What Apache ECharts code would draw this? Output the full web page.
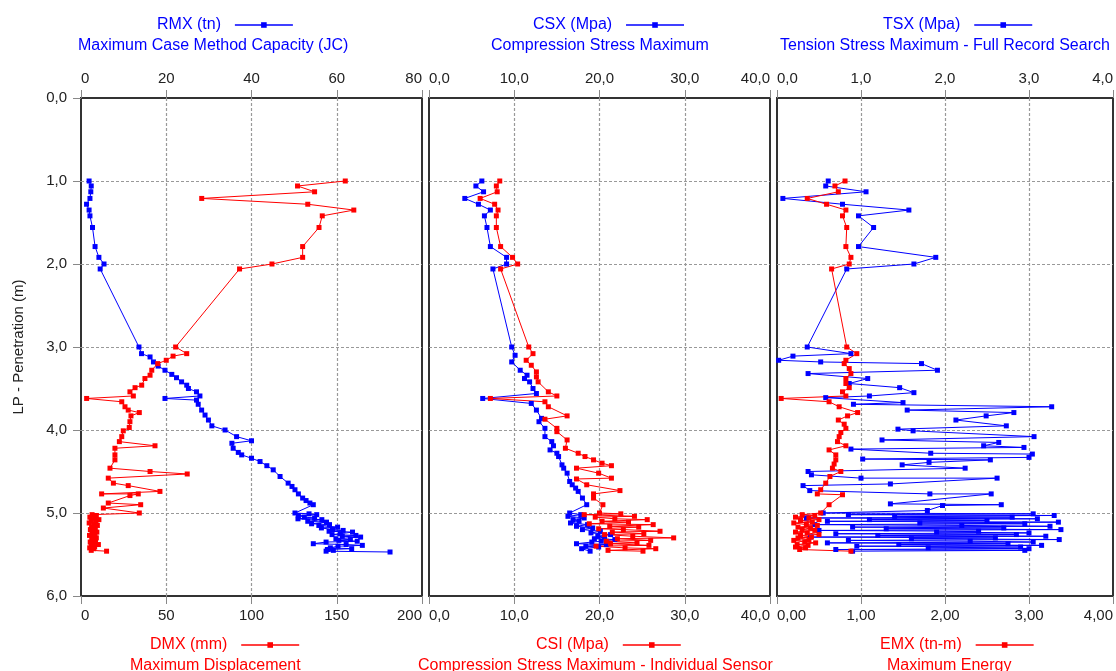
<!DOCTYPE html>
<html>
<head>
<meta charset="utf-8">
<script src="https://cdn.jsdelivr.net/npm/echarts@6/dist/echarts.min.js"></script>
<style>
html, body { margin: 0; padding: 0; background: #fff; overflow: hidden; }
#main { width: 1116px; height: 671px; }
</style>
</head>
<body>
<div id="main"></div>
<script>
// 数据: [值, 深度(m)]
const rmx = [
  [1.9,1.00],[2.4,1.06],[2.3,1.13],[2.1,1.21],[1.3,1.28],[1.9,1.35],[2.1,1.42],[2.7,1.56],[3.3,1.79],[4.2,1.92],[5.4,2.00],[4.5,2.06],
  [13.6,3.00],[14.2,3.08],[16.2,3.12],[17.0,3.18],[18.1,3.23],[19.7,3.28],[21.3,3.33],[22.4,3.37],[23.6,3.42],[24.8,3.46],[25.2,3.50],
  [27.1,3.54],[27.9,3.59],[19.7,3.62],[27.1,3.64],[27.5,3.69],[28.3,3.76],[29.1,3.82],[29.9,3.88],[30.7,3.95],[33.8,4.00],[36.5,4.08],
  [40.0,4.13],[35.4,4.16],[35.7,4.22],[36.9,4.27],[37.7,4.30],[40.0,4.34],[42.0,4.38],[43.6,4.43],[45.1,4.48],[46.7,4.56],[48.6,4.64],
  [49.5,4.68],[50.2,4.72],[51.0,4.77],[52.0,4.82],[52.8,4.85],[53.7,4.88],[54.5,4.90],
  [50.2,5.00],[53.5,5.01],[55.3,5.02],[51.0,5.03],[52.4,5.05],[54.8,5.06],[50.9,5.07],[56.5,5.08],[53.2,5.10],[57.6,5.11],[54.1,5.13],
  [58.3,5.14],[55.8,5.15],[60.2,5.17],[56.4,5.18],[59.0,5.20],[61.5,5.21],[58.2,5.22],[63.7,5.23],[60.8,5.25],[58.9,5.26],[64.5,5.27],
  [61.3,5.28],[65.6,5.29],[59.8,5.31],[63.2,5.32],[60.5,5.33],[64.8,5.34],[57.5,5.35],[54.5,5.37],[62.2,5.38],[66.0,5.39],[60.3,5.40],
  [58.5,5.42],[63.5,5.43],[57.8,5.44],[59.2,5.45],[57.5,5.46],[72.5,5.47]
];
const dmx = [
  [155,1.00],[127,1.06],[137,1.13],[70.8,1.21],[133,1.28],[160,1.35],[141.5,1.42],[139.6,1.56],[130,1.79],[130,1.92],[112,2.00],[93,2.06],
  [55.5,3.00],[62,3.08],[54,3.11],[50,3.16],[45,3.20],[41.5,3.28],[40.5,3.34],[37.5,3.38],[35.6,3.46],[31.7,3.49],[28.7,3.54],[30.7,3.59],
  [3.3,3.62],[23.9,3.66],[25.8,3.72],[27.7,3.76],[34.2,3.79],[29.3,3.83],[28.7,3.90],[28.3,3.97],[24.8,4.01],[23.9,4.08],[22.5,4.14],
  [43.4,4.19],[19.9,4.22],[19.9,4.30],[19.9,4.36],[17,4.46],[40.5,4.50],[62.3,4.53],[16,4.58],[19,4.64],[27.7,4.67],[46.3,4.74],
  [12.1,4.77],[33.6,4.77],[28.7,4.79],[16,4.88],[35,4.90],[13.1,4.94],[34.2,5.00],
  [6.5,5.02],[9.0,5.03],[5.2,5.05],[8.1,5.06],[10.5,5.08],[6.0,5.09],[8.8,5.11],[4.8,5.12],[7.5,5.14],[9.6,5.15],[6.2,5.17],[8.4,5.18],
  [5.5,5.20],[7.9,5.21],[9.3,5.23],[6.4,5.24],[8.2,5.26],[5.0,5.27],[7.1,5.29],[9.0,5.30],[6.3,5.32],[8.5,5.33],[5.4,5.35],[7.3,5.36],
  [10.2,5.38],[6.0,5.39],[8.0,5.41],[5.1,5.42],[7.4,5.43],[6.0,5.45],[15.0,5.46]
];
const csx = [
  [6.2,1.00],[5.5,1.06],[6.4,1.13],[4.2,1.21],[5.8,1.28],[7.2,1.35],[6.5,1.42],[6.8,1.56],[7.2,1.79],[9.1,1.92],[9.1,2.00],[7.5,2.06],
  [9.7,3.00],[10.1,3.10],[9.7,3.18],[10.7,3.28],[11.5,3.34],[11.2,3.38],[11.8,3.42],[12.2,3.50],[12.6,3.56],[6.3,3.62],[12.0,3.68],
  [12.6,3.76],[13.2,3.86],[12.9,3.90],[13.6,3.98],[13.6,4.08],[14.4,4.14],[14.6,4.19],[14.2,4.24],[15.0,4.28],[15.2,4.32],[15.6,4.42],
  [15.8,4.46],[16.2,4.52],[16.5,4.62],[16.8,4.66],[17.2,4.70],[17.5,4.74],[18.0,4.82],[18.5,4.90],
  [16.5,5.00],[17.8,5.02],[16.3,5.04],[18.2,5.06],[16.9,5.08],[17.6,5.10],[16.6,5.12],[18.6,5.14],[17.3,5.16],[19.2,5.18],[18.0,5.20],
  [20.1,5.22],[19.0,5.24],[21.3,5.26],[19.8,5.28],[20.6,5.29],[19.4,5.31],[21.8,5.32],[20.2,5.34],[19.1,5.35],[17.3,5.37],[20.8,5.38],
  [18.4,5.40],[19.9,5.41],[17.9,5.43],[18.9,5.46]
];
const csi = [
  [8.3,1.00],[7.9,1.06],[8.0,1.13],[6.0,1.21],[7.7,1.28],[8.1,1.35],[7.9,1.42],[7.9,1.56],[8.4,1.79],[9.8,1.92],[10.4,2.00],[8.4,2.06],
  [11.7,3.00],[12.2,3.08],[11.4,3.16],[12.0,3.22],[12.6,3.30],[12.6,3.36],[12.8,3.42],[14.0,3.54],[15.0,3.59],[7.2,3.62],[13.6,3.66],
  [14.0,3.72],[16.2,3.83],[13.6,3.87],[15.0,3.98],[15.0,4.02],[16.2,4.12],[16.0,4.22],[17.5,4.28],[18.3,4.32],[19.3,4.36],[20.3,4.40],
  [21.4,4.43],[17.3,4.46],[19.9,4.52],[21.4,4.58],[17.3,4.59],[18.5,4.66],[22.4,4.73],[19.3,4.77],[19.3,4.82],[20.4,4.90],
  [20.0,5.00],[22.5,5.01],[18.2,5.02],[24.1,5.04],[19.5,5.05],[21.8,5.07],[25.6,5.08],[20.3,5.10],[23.4,5.11],[18.8,5.13],[26.3,5.14],
  [21.2,5.16],[24.6,5.17],[19.9,5.19],[22.8,5.20],[27.1,5.22],[21.5,5.23],[25.2,5.25],[20.6,5.26],[23.9,5.28],[28.7,5.30],[22.1,5.31],
  [26.0,5.33],[20.8,5.34],[24.4,5.36],[21.3,5.37],[25.8,5.39],[19.6,5.40],[23.0,5.42],[26.6,5.43],[21.0,5.45],[25.1,5.46]
];
const tsx = [
  [0.61,1.00],[0.58,1.06],[1.06,1.13],[0.07,1.21],[0.78,1.28],[1.57,1.35],[0.97,1.42],[1.15,1.56],[0.97,1.79],[1.89,1.92],[1.63,2.00],[0.83,2.06],
  [0.36,3.00],[0.88,3.08],[0.19,3.11],[0.02,3.16],[0.52,3.18],[1.72,3.20],[1.91,3.28],[0.37,3.32],[1.08,3.38],[0.86,3.44],[1.46,3.49],
  [1.63,3.55],[1.10,3.59],[0.58,3.61],[1.50,3.67],[0.91,3.69],[3.27,3.72],[1.55,3.76],[2.82,3.79],[2.49,3.83],[2.13,3.88],[2.73,3.95],
  [1.44,3.99],[1.62,4.01],[3.06,4.08],[1.25,4.12],[2.64,4.15],[2.46,4.19],[2.94,4.21],[0.88,4.23],[1.83,4.28],[3.04,4.29],[3.00,4.33],
  [1.02,4.35],[2.54,4.36],[1.81,4.39],[1.49,4.42],[2.24,4.46],[0.37,4.50],[0.41,4.54],[1.00,4.58],[2.62,4.58],[1.35,4.65],[0.31,4.67],
  [0.39,4.73],[1.82,4.77],[2.55,4.77],[1.35,4.89],[2.67,4.90],[1.97,4.91],[1.79,4.97],
  [0.55,5.00],[3.05,5.01],[0.85,5.02],[3.30,5.03],[1.40,5.04],[2.80,5.05],[0.35,5.06],[3.10,5.07],[1.10,5.08],[2.50,5.09],[0.60,5.10],
  [3.35,5.11],[1.70,5.12],[2.95,5.13],[0.45,5.14],[2.20,5.15],[3.25,5.16],[0.90,5.17],[2.70,5.18],[1.30,5.19],[3.38,5.20],[0.50,5.21],
  [2.40,5.22],[1.90,5.23],[3.00,5.24],[0.70,5.25],[2.85,5.26],[1.20,5.27],[3.20,5.28],[0.40,5.29],[2.60,5.30],[1.60,5.31],[3.36,5.32],
  [0.85,5.33],[2.30,5.34],[3.05,5.35],[0.60,5.36],[2.75,5.37],[1.45,5.38],[3.15,5.39],[0.95,5.40],[2.90,5.41],[1.80,5.42],[3.00,5.43],
  [0.70,5.44],[2.95,5.45],[0.90,5.46]
];
const emx = [
  [0.81,1.00],[0.69,1.06],[0.73,1.13],[0.36,1.21],[0.59,1.28],[0.82,1.35],[0.78,1.42],[0.83,1.56],[0.82,1.79],[0.88,1.92],[0.86,2.00],[0.65,2.06],
  [0.83,3.00],[0.95,3.08],[0.82,3.16],[0.80,3.20],[0.86,3.26],[0.88,3.32],[0.82,3.38],[0.82,3.44],[0.86,3.49],[0.78,3.54],[0.82,3.59],
  [0.05,3.62],[0.62,3.66],[0.74,3.72],[0.96,3.79],[0.84,3.83],[0.73,3.88],[0.80,3.93],[0.82,3.98],[0.76,4.03],[0.74,4.08],[0.72,4.14],
  [0.82,4.19],[0.62,4.24],[0.70,4.30],[0.70,4.36],[0.68,4.41],[0.66,4.46],[0.76,4.50],[0.63,4.56],[0.58,4.64],[0.52,4.72],[0.48,4.77],
  [0.78,4.78],[0.62,4.90],[0.52,5.00],
  [0.30,5.02],[0.45,5.03],[0.22,5.05],[0.38,5.06],[0.50,5.08],[0.28,5.09],[0.42,5.11],[0.20,5.12],[0.35,5.14],[0.48,5.15],[0.25,5.17],
  [0.40,5.18],[0.30,5.20],[0.45,5.21],[0.22,5.23],[0.36,5.24],[0.50,5.26],[0.28,5.27],[0.41,5.29],[0.25,5.30],[0.38,5.32],[0.20,5.33],
  [0.33,5.35],[0.46,5.36],[0.24,5.38],[0.37,5.39],[0.22,5.41],[0.34,5.42],[0.27,5.44],[0.88,5.46]
];

const FONT = '"Liberation Sans", Arial, sans-serif';
const BLUE = '#0000ff', RED = '#ff0000';
const comma = function (d) {
    return function (v) { return v.toFixed(d).replace('.', ','); };
};

/*封装x轴*/
const xAx = function (grid, pos, max, interval, dec, split) {
    return {
        type: 'value', gridIndex: grid, position: pos, min: 0, max: max, interval: interval,
        axisLine: { show: false },
        axisTick: { show: true, length: 8, lineStyle: { color: '#888' } },
        axisLabel: {
            color: '#222', fontSize: 15, fontFamily: FONT, margin: 12,
            formatter: comma(dec), alignMinLabel: 'left', alignMaxLabel: 'right',
            showMinLabel: true, showMaxLabel: true
        },
        splitLine: { show: split, showMinLine: false, showMaxLine: false, lineStyle: { color: '#999', type: [3, 2], width: 1.2 } }
    };
};

/*封装y轴*/
const yAx = function (grid) {
    let first = grid === 0;
    return {
        type: 'value', gridIndex: grid, min: 0, max: 6, interval: 1, inverse: true,
        name: first ? 'LP - Penetration (m)' : '',
        nameLocation: 'middle', nameGap: 55, nameRotate: 90,
        nameTextStyle: { color: '#222', fontSize: 15, fontFamily: FONT },
        axisLine: { show: false },
        axisTick: { show: first, length: 8, lineStyle: { color: '#888' } },
        axisLabel: { show: first, color: '#222', fontSize: 15, fontFamily: FONT, margin: 14, formatter: comma(1) },
        splitLine: { show: true, showMinLine: false, showMaxLine: false, lineStyle: { color: '#999', type: [3, 2], width: 1.2 } }
    };
};

const grid = function (left) {
    return { left: left, top: 98, width: 341, height: 498, show: true, borderColor: '#333', borderWidth: 2, backgroundColor: 'transparent' };
};

const leg = function (name, left, top, color) {
    return {
        data: [name], left: left, top: top, align: 'right', padding: 0,
        itemWidth: 58, itemHeight: 7, selectedMode: false, formatter: '{name}  ',
        lineStyle: { width: 1.5 },
        textStyle: { color: color, fontSize: 16, fontFamily: FONT }
    };
};

const ttl = function (text, left, top, color) {
    return { text: text, left: left, top: top, padding: 0,
        textStyle: { color: color, fontSize: 16, fontWeight: 'normal', fontFamily: FONT } };
};

const ser = function (name, data, xi, yi, color) {
    return {
        name: name, type: 'line', data: data, xAxisIndex: xi, yAxisIndex: yi,
        symbol: 'rect', symbolSize: 5, showSymbol: true,
        lineStyle: { width: 1, color: color }, itemStyle: { color: color },
        animation: false
    };
};

let myChart = echarts.init(document.getElementById('main'));

let option = {
    backgroundColor: '#fff',
    animation: false,
    grid: [grid(81), grid(429), grid(777)],
    xAxis: [
        xAx(0, 'top', 80, 20, 0, true), xAx(0, 'bottom', 200, 50, 0, false),
        xAx(1, 'top', 40, 10, 1, true), xAx(1, 'bottom', 40, 10, 1, false),
        xAx(2, 'top', 4, 1, 1, true), xAx(2, 'bottom', 4, 1, 2, false)
    ],
    yAxis: [yAx(0), yAx(1), yAx(2)],
    legend: [
        leg('RMX (tn)', 157, 17, BLUE), leg('CSX (Mpa)', 533, 17, BLUE), leg('TSX (Mpa)', 883, 17, BLUE),
        leg('DMX (mm)', 150, 637, RED), leg('CSI (Mpa)', 536, 637, RED), leg('EMX (tn-m)', 880, 637, RED)
    ],
    title: [
        ttl('Maximum Case Method Capacity (JC)', 78, 38, BLUE),
        ttl('Compression Stress Maximum', 491, 38, BLUE),
        ttl('Tension Stress Maximum - Full Record Search', 780, 38, BLUE),
        ttl('Maximum Displacement', 130, 658, RED),
        ttl('Compression Stress Maximum - Individual Sensor', 418, 658, RED),
        ttl('Maximum Energy', 887, 658, RED)
    ],
    series: [
        ser('RMX (tn)', rmx, 0, 0, BLUE),
        ser('DMX (mm)', dmx, 1, 0, RED),
        ser('CSX (Mpa)', csx, 2, 1, BLUE),
        ser('CSI (Mpa)', csi, 3, 1, RED),
        ser('TSX (Mpa)', tsx, 4, 2, BLUE),
        ser('EMX (tn-m)', emx, 5, 2, RED)
    ]
};

myChart.setOption(option);
</script>
</body>
</html>
